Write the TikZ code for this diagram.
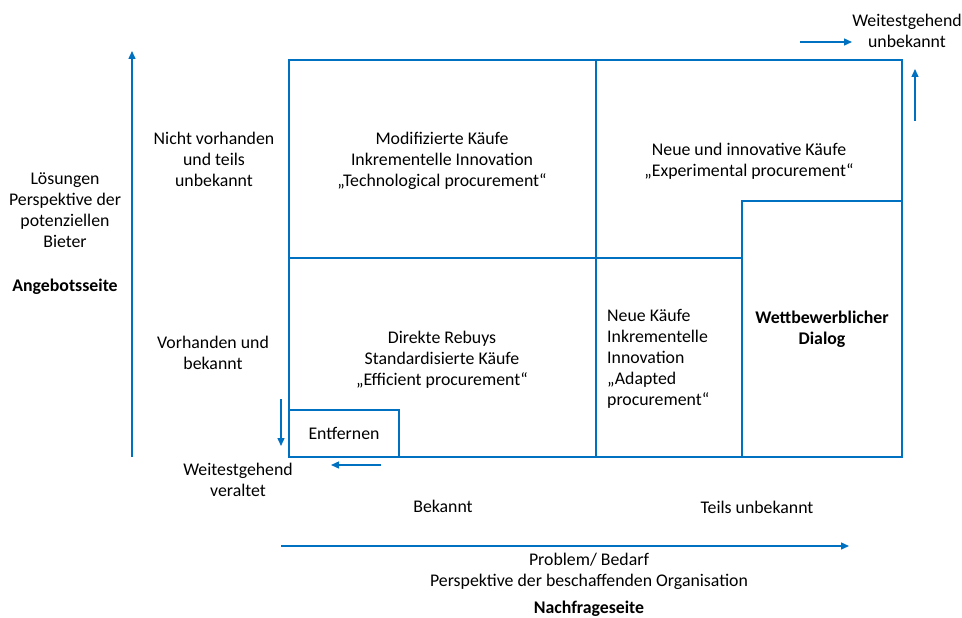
\documentclass[tikz,border=0pt]{standalone}
\usepackage{fontspec}
\setmainfont{Carlito}
\usetikzlibrary{arrows.meta}
\definecolor{gridblue}{RGB}{0,112,192}

\begin{document}
\begin{tikzpicture}[
  x=1pt, y=-1pt,
  >={Triangle[length=8pt,width=7pt]},
  every node/.style={font=\fontsize{17.8}{21}\selectfont, align=center, inner sep=0pt},
  grid/.style={draw=gridblue, line width=1.6pt},
  axis/.style={draw=gridblue, line width=1.4pt, ->},
  hd/.style={font=\fontsize{17.8}{21}\selectfont\bfseries}
]
  \useasboundingbox (0,0) rectangle (962,618);

  % matrix
  \draw[grid] (289,60) rectangle (902,457);
  \draw[grid] (596,60) -- (596,457);
  \draw[grid] (289,258) -- (742,258);
  \node[grid, minimum width=160pt, minimum height=256pt] (dialog) at (822,329)
    {\bfseries Wettbewerblicher\\\bfseries Dialog};
  \node[grid, minimum width=110pt, minimum height=47pt] (entf) at (344,433.5) {Entfernen};

  % cell texts
  \node (modi) at (442,161) {Modifizierte Käufe\\Inkrementelle Innovation\\„Technological procurement“};
  \node (expe) at (749,161) {Neue und innovative Käufe\\„Experimental procurement“};
  \node (effi) at (442,360) {Direkte Rebuys\\Standardisierte Käufe\\„Efficient procurement“};
  \node[align=left, anchor=north west] (adap) at (607,309) {Neue Käufe\\Inkrementelle\\Innovation\\„Adapted\\procurement“};

  % supply side
  \node (nicht) at (214,159) {Nicht vorhanden\\und teils\\unbekannt};
  \node (vorh) at (213,353) {Vorhanden und\\bekannt};
  \node (loes) at (65,210) {Lösungen\\Perspektive der\\potenziellen\\Bieter};
  \node[hd] (angeb) at (65,287) {Angebotsseite};
  \coordinate (vA) at (132,457);
  \coordinate (vB) at (132,51);
  \draw[axis] (vA) -- (vB);

  % demand side
  \node (bek) at (443,506) {Bekannt};
  \node (teils) at (757,507) {Teils unbekannt};
  \coordinate (hA) at (281,546);
  \coordinate (hB) at (849,546);
  \draw[axis] (hA) -- (hB);
  \node (prob) at (589,571) {Problem/ Bedarf\\Perspektive der beschaffenden Organisation};
  \node[hd] (nach) at (589,609) {Nachfrageseite};

  % corners
  \node (unbek) at (907,31) {Weitestgehend\\unbekannt};
  \coordinate (rA) at (800,42);
  \coordinate (rB) at (852,42);
  \draw[axis] (rA) -- (rB);
  \coordinate (uA) at (915,121);
  \coordinate (uB) at (915,69);
  \draw[axis] (uA) -- (uB);

  \node (veral) at (238,480) {Weitestgehend\\veraltet};
  \coordinate (dA) at (281,399);
  \coordinate (dB) at (281,446);
  \draw[axis] (dA) -- (dB);
  \coordinate (lA) at (381,465);
  \coordinate (lB) at (331,465);
  \draw[axis] (lA) -- (lB);
\end{tikzpicture}
\end{document}
